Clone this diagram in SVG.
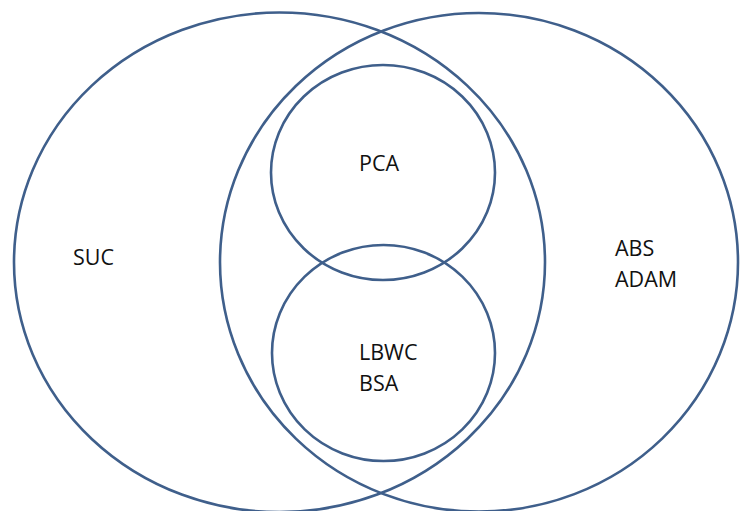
<svg xmlns="http://www.w3.org/2000/svg" width="741" height="511" viewBox="0 0 741 511">
<style>
.set{fill:none;stroke:#3f5f8b;stroke-width:2.6}
.lbl{font-family:"Open Sans","Noto Sans",sans-serif;font-size:21.5px;fill:#111}
</style>
<rect width="741" height="511" fill="#fff"/>
<g id="suc">
<ellipse class="set" cx="279.5" cy="262.3" rx="265.5" ry="249.8"/>
<text class="lbl" x="73" y="265">SUC</text>
</g>
<g id="abs-adam">
<ellipse class="set" cx="479" cy="262.3" rx="259" ry="249.3"/>
<text class="lbl" x="615" y="256">ABS</text>
<text class="lbl" x="615" y="287">ADAM</text>
</g>
<g id="pca">
<ellipse class="set" cx="383" cy="172.5" rx="112" ry="107.5"/>
<text class="lbl" x="359" y="171">PCA</text>
</g>
<g id="lbwc-bsa">
<ellipse class="set" cx="383.5" cy="353" rx="111.5" ry="108"/>
<text class="lbl" x="359" y="360">LBWC</text>
<text class="lbl" x="359" y="391">BSA</text>
</g>
<g id="connectors"/>
</svg>
